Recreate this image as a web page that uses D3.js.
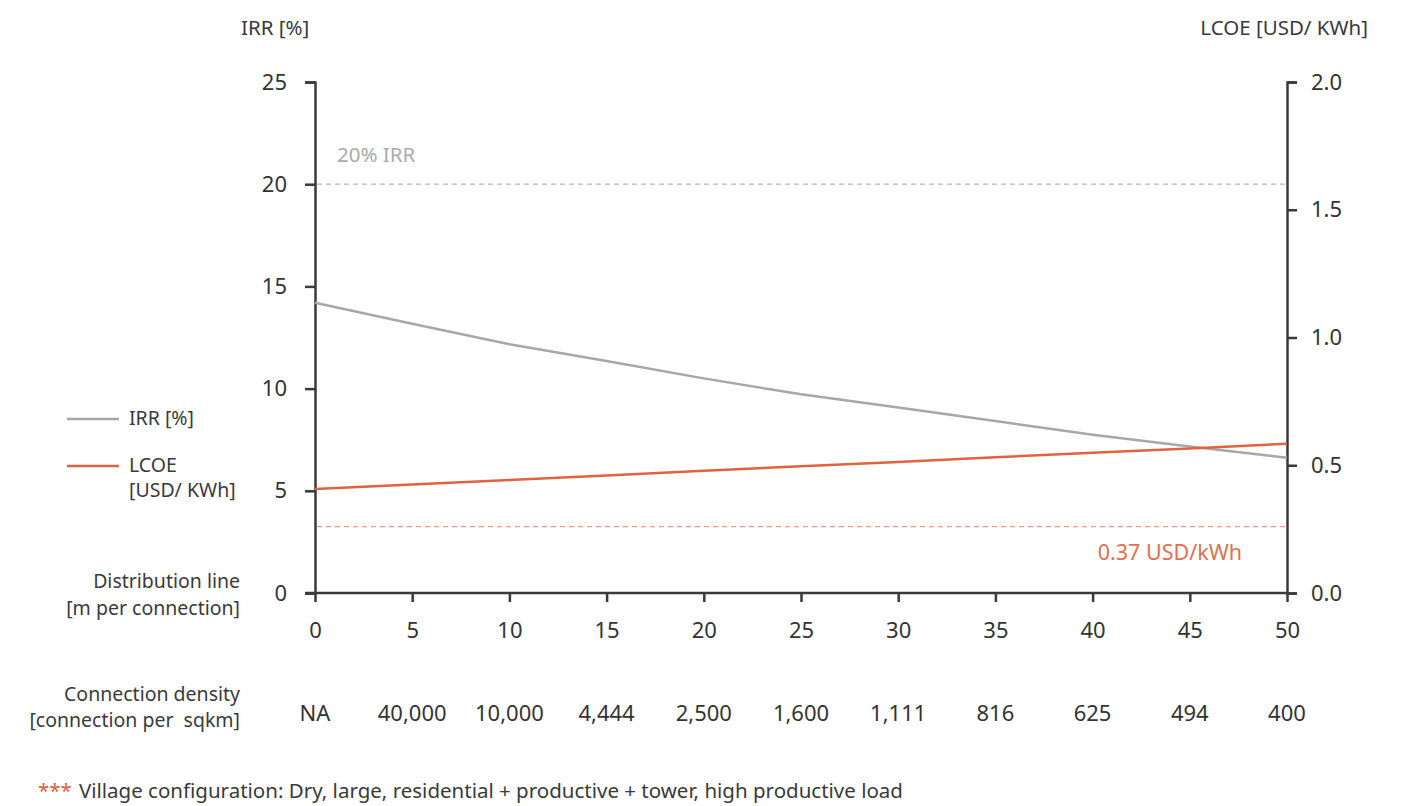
<!DOCTYPE html>
<html lang="en">
<head>
    <meta charset="UTF-8">
    <title>IRR vs LCOE</title>
    <style>
        body { margin: 0; background: #fff; }
        text { font-family: "Noto Sans", "Open Sans", sans-serif; fill: #3a3a3a; }
        .axis path, .axis line { stroke: #3a3a3a; stroke-width: 2.5; }
        .axis text { font-size: 22px; fill: #333; }
    </style>
</head>
<body>
    <div id="wrapper"></div>

    <script src="https://d3js.org/d3.v7.min.js"></script>
    <script>
        // data
        const distLine = [0, 5, 10, 15, 20, 25, 30, 35, 40, 45, 50];
        const density = ["NA", "40,000", "10,000", "4,444", "2,500", "1,600", "1,111", "816", "625", "494", "400"];
        const irr = [14.2, 13.17, 12.17, 11.35, 10.5, 9.72, 9.07, 8.41, 7.74, 7.17, 6.62];
        const lcoe = [0.407, 0.425, 0.442, 0.46, 0.478, 0.496, 0.513, 0.531, 0.549, 0.566, 0.584];
        const irrTarget = 20;
        const lcoeTarget = 0.26;
        const irrTicks = [0, 5, 10, 15, 20, 25];
        const lcoeTicks = [0, 0.5, 1.0, 1.5, 2.0];

        const width = 1405, height = 806;
        const plotL = 315, plotR = 1287, plotT = 82, plotB = 593;
        const grey = "#a7a7a7", red = "#e2623f";

        const svg = d3.select('#wrapper').append('svg')
            .attr('width', width)
            .attr('height', height);

        const x = d3.scaleLinear().domain([0, 50]).range([plotL, plotR]);
        const yL = d3.scaleLinear().domain([0, 25]).range([plotB, plotT]);
        const yR = d3.scaleLinear().domain([0, 2]).range([plotB, plotT]);

        // axes
        svg.append('g').attr('class', 'axis')
            .attr('transform', `translate(${plotL},0)`)
            .call(d3.axisLeft(yL).tickValues(irrTicks).tickSizeOuter(0).tickSize(10).tickPadding(18));

        svg.append('g').attr('class', 'axis')
            .attr('transform', `translate(${plotR},0)`)
            .call(d3.axisRight(yR).tickValues(lcoeTicks).tickFormat(d3.format('.1f')).tickSizeOuter(0).tickSize(10).tickPadding(14));

        const xAxis = svg.append('g').attr('class', 'axis')
            .attr('transform', `translate(0,${plotB})`)
            .call(d3.axisBottom(x).tickValues(distLine).tickSizeOuter(0).tickSize(9).tickPadding(20));
        xAxis.select('.domain').attr('d', `M${plotL - 10},0H${plotR}`);

        // density row
        svg.append('g').selectAll('text')
            .data(density)
            .join('text')
            .attr('x', (d, i) => x(distLine[i]))
            .attr('y', 721)
            .attr('text-anchor', 'middle')
            .style('font-size', '22px')
            .style('fill', '#333')
            .text(d => d);

        // reference lines
        svg.append('line')
            .attr('x1', plotL + 2).attr('x2', plotR)
            .attr('y1', yL(irrTarget)).attr('y2', yL(irrTarget))
            .attr('stroke', '#b5b5b5').attr('stroke-width', 1.3)
            .style('stroke-dasharray', '5,4');
        svg.append('text')
            .attr('x', 337).attr('y', 162)
            .style('font-size', '20.5px').style('fill', '#ababab')
            .text('20% IRR');

        svg.append('line')
            .attr('x1', plotL + 2).attr('x2', plotR)
            .attr('y1', yR(lcoeTarget)).attr('y2', yR(lcoeTarget))
            .attr('stroke', '#ef9a84').attr('stroke-width', 1.3)
            .style('stroke-dasharray', '5,4');
        svg.append('text')
            .attr('x', 1242).attr('y', 560)
            .attr('text-anchor', 'end')
            .style('font-size', '21.5px').style('fill', '#e0704f')
            .text('0.37 USD/kWh');

        // lines
        const irrLine = d3.line().x((d, i) => x(distLine[i])).y(d => yL(d));
        const lcoeLine = d3.line().x((d, i) => x(distLine[i])).y(d => yR(d));

        svg.append('path').attr('d', irrLine(irr))
            .attr('fill', 'none').attr('stroke', grey).attr('stroke-width', 2.5);
        svg.append('path').attr('d', lcoeLine(lcoe))
            .attr('fill', 'none').attr('stroke', red).attr('stroke-width', 2.5);

        // axis titles
        svg.append('text').attr('x', 241).attr('y', 35)
            .style('font-size', '20.5px').text('IRR [%]');
        svg.append('text').attr('x', 1368).attr('y', 35)
            .attr('text-anchor', 'end')
            .style('font-size', '20.5px').text('LCOE [USD/ KWh]');

        // legend
        svg.append('line').attr('x1', 67).attr('x2', 119).attr('y1', 419).attr('y2', 419)
            .attr('stroke', grey).attr('stroke-width', 2.5);
        svg.append('text').attr('x', 129).attr('y', 425)
            .style('font-size', '19.5px').text('IRR [%]');
        svg.append('line').attr('x1', 67).attr('x2', 119).attr('y1', 466).attr('y2', 466)
            .attr('stroke', red).attr('stroke-width', 2.5);
        svg.append('text').attr('x', 129).attr('y', 472)
            .style('font-size', '19.5px').text('LCOE');
        svg.append('text').attr('x', 129).attr('y', 497)
            .style('font-size', '19.5px').text('[USD/ KWh]');

        // row labels
        const rowLabels = [
            ['Distribution line', 588], ['[m per connection]', 615],
            ['Connection density', 701], ['[connection per  sqkm]', 727]
        ];
        svg.append('g').selectAll('text')
            .data(rowLabels)
            .join('text')
            .attr('x', 240)
            .attr('y', d => d[1])
            .attr('text-anchor', 'end')
            .style('font-size', '19.5px')
            .style('white-space', 'pre')
            .text(d => d[0]);

        // footnote
        const foot = svg.append('text').attr('x', 38).attr('y', 798).style('font-size', '20.5px');
        foot.append('tspan').style('fill', '#e2623f').text('***');
        foot.append('tspan').attr('dx', 7).text('Village configuration: Dry, large, residential + productive + tower, high productive load');
    </script>
</body>
</html>
